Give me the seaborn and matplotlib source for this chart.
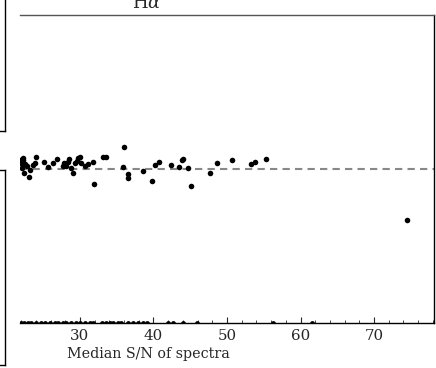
import matplotlib
matplotlib.use("Agg")
import matplotlib.pyplot as plt
from matplotlib.ticker import AutoMinorLocator
import seaborn as sns
import pandas as pd

sn_main = [22.29, 22.15, 22.52, 22.07, 22.38, 22.75, 23.10, 23.20, 23.56, 23.88,
           24.01, 25.14, 25.69, 26.37, 26.83, 27.65, 27.86, 28.10, 28.41, 28.54,
           28.78, 29.01, 29.32, 29.55, 29.77, 30.00, 30.10, 30.68, 31.05, 31.73,
           31.95, 33.09, 33.54, 36.03, 35.89, 36.57, 36.57, 38.61, 39.84, 40.20,
           40.79, 42.38, 43.51, 43.92, 44.05, 44.65, 45.06, 47.69, 48.68, 50.64,
           53.22, 53.81, 55.35, 74.53, 22.19, 21.90]
ratio_main = [1.035, 1.015, 1.016, 1.002, 0.988, 1.010, 0.973, 0.997, 1.013, 1.020,
              1.038, 1.024, 1.007, 1.019, 1.031, 1.011, 1.019, 1.010, 1.024, 1.031,
              1.002, 0.988, 1.019, 1.027, 1.035, 1.040, 1.020, 1.010, 1.016, 1.022,
              0.950, 1.038, 1.040, 1.072, 1.007, 0.984, 0.972, 0.994, 0.962, 1.014,
              1.022, 1.013, 1.006, 1.029, 1.033, 1.004, 0.945, 0.988, 1.019, 1.029,
              1.017, 1.024, 1.032, 0.834, 1.029, 1.029]

sn_low = [21.97, 22.38, 22.93, 23.33, 24.01, 24.69, 25.24, 25.92, 26.60, 27.01,
          27.69, 28.10, 28.78, 29.46, 30.00, 30.68, 31.36, 31.77, 32.99, 33.54,
          34.08, 34.49, 35.17, 35.58, 36.53, 37.21, 37.89, 38.57, 39.12, 41.97,
          42.65, 44.01, 45.92, 56.26, 61.56]
ratio_low = [0.499] * len(sn_low)

x_ticks = [30, 40, 50, 60, 70]
x_label = "Median S/N of spectra"
title = r"H$\alpha$"

sns.set_style("white")
plt.rcParams["font.family"] = ["DejaVu Serif"]
plt.rcParams["mathtext.fontset"] = "dejavuserif"

fig = plt.figure(figsize=(4.36, 3.68), dpi=100)
ax = fig.add_axes([20 / 436, 45 / 368, 414 / 436, 308 / 368])

df_main = pd.DataFrame({"sn": sn_main, "ratio": ratio_main})
df_low = pd.DataFrame({"sn": sn_low, "ratio": ratio_low})

ax.axhline(1.0, color="#888888", lw=1.5, ls=(0, (3.5, 2.5)), zorder=1)
sns.scatterplot(data=df_main, x="sn", y="ratio", ax=ax, color="black",
                s=16, linewidth=0, zorder=3)
sns.scatterplot(data=df_low, x="sn", y="ratio", ax=ax, color="black",
                s=12, linewidth=0, zorder=3)

ax.set_xlim(21.84, 78.16)
ax.set_ylim(0.5, 1.5)
ax.set_xticks(x_ticks)
ax.xaxis.set_minor_locator(AutoMinorLocator(5))
ax.set_yticks([])
ax.set_ylabel("")
ax.set_xlabel(x_label, fontsize=10.3)
ax.xaxis.set_label_coords((148 - 20) / 414, -0.078)
ax.tick_params(axis="x", which="major", direction="in", length=4, width=0.8,
               labelsize=10.8, pad=4, bottom=True, top=False)
ax.tick_params(axis="x", which="minor", direction="in", length=2, width=0.6,
               bottom=True, top=False)

ax.spines["left"].set_visible(False)
ax.spines["top"].set_color("#555555")
ax.spines["right"].set_color("black")
ax.spines["bottom"].set_color("black")
for s in ["top", "right", "bottom"]:
    ax.spines[s].set_linewidth(1.0)

fig.text(147 / 436, (368 - 8) / 368, title, ha="center", va="baseline", fontsize=13)

# neighbouring panels partly visible at the left edge
for bottom, height in [((368 - 131) / 368, 0.6), (3 / 368, 195 / 368)]:
    a = fig.add_axes([-0.5, bottom, 0.5 + 4.5 / 436, height])
    a.set_xticks([])
    a.set_yticks([])
    for s in a.spines.values():
        s.set_color("black")
        s.set_linewidth(1.0)
    a.patch.set_alpha(0)

fig.savefig("out.png", dpi=100)
